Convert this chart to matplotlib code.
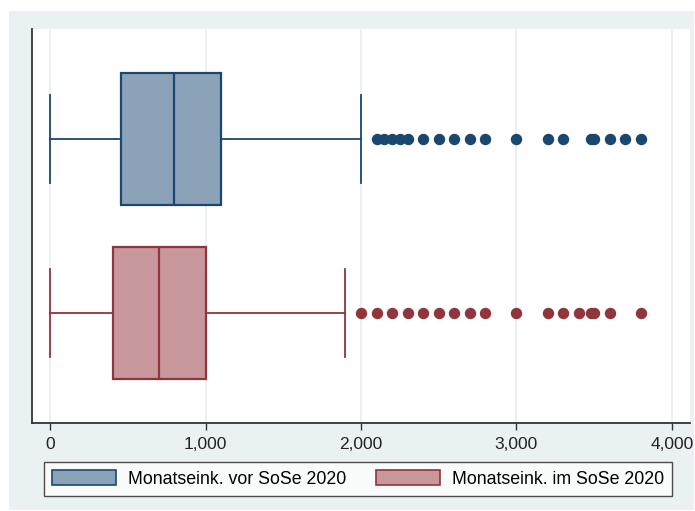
import matplotlib.pyplot as plt
from matplotlib.patches import Rectangle, Patch

# monthly income before / during summer semester 2020
labels = ["Monatseink. vor SoSe 2020", "Monatseink. im SoSe 2020"]
whislo = [0, 0]
q1 = [455, 405]
med = [800, 700]
q3 = [1100, 1000]
whishi = [2000, 1900]
fliers_vor = [2100, 2150, 2200, 2250, 2300, 2400, 2500, 2600, 2700, 2800,
              3000, 3200, 3300, 3480, 3500, 3600, 3700, 3800]
fliers_im = [2000, 2100, 2200, 2300, 2400, 2500, 2600, 2700, 2800,
             3000, 3200, 3300, 3400, 3480, 3500, 3600, 3800]
xticks = [0, 1000, 2000, 3000, 4000]

fills = ["#8CA2B8", "#C8979B"]
edges = ["#1A476F", "#90353B"]

plt.rcParams['font.family'] = ['Liberation Sans', 'DejaVu Sans']

fig = plt.figure(figsize=(6.95, 5.11), dpi=100, facecolor="white")
fig.patches.append(Rectangle((9 / 695, 1 - 510 / 511), 685 / 695, 499 / 511,
                             transform=fig.transFigure, facecolor="#EAF1F3",
                             edgecolor="none", zorder=-5))

ax = fig.add_axes([32 / 695, 1 - 423 / 511, 658 / 695, 394 / 511])
ax.set_facecolor("white")

stats = []
for i, fl in enumerate([fliers_vor, fliers_im]):
    stats.append(dict(whislo=whislo[i], q1=q1[i], med=med[i], q3=q3[i],
                      whishi=whishi[i], fliers=fl, label=labels[i]))

positions = [2, 1]
for i in range(2):
    ax.bxp([stats[i]], positions=[positions[i]], widths=0.753, vert=False,
           patch_artist=True, capwidths=0.506,
           boxprops=dict(facecolor=fills[i], edgecolor=edges[i], linewidth=1.6),
           medianprops=dict(color=edges[i], linewidth=1.6),
           whiskerprops=dict(color=edges[i], linewidth=1.3),
           capprops=dict(color=edges[i], linewidth=1.3),
           flierprops=dict(marker="o", markerfacecolor=edges[i],
                           markeredgecolor=edges[i], markersize=7.2))

ax.set_xlim(-116, 4116)
ax.set_ylim(0.368, 2.632)
ax.set_xticks(xticks)
ax.set_xticklabels([f"{t:,}" for t in xticks], fontsize=12.5, color="#222222")
ax.set_yticks([])
ax.tick_params(axis="x", length=5, width=1, color="#333333", pad=5)
ax.grid(axis="x", color="#E8F0F4", linewidth=1.3)
ax.set_axisbelow(True)
for s in ["top", "right"]:
    ax.spines[s].set_visible(False)
for s in ["left", "bottom"]:
    ax.spines[s].set_color("#333333")
    ax.spines[s].set_linewidth(1.3)

handles = [Patch(facecolor=fills[i], edgecolor=edges[i], linewidth=1.2) for i in range(2)]
leg = fig.legend(handles, labels, loc="center",
                 bbox_to_anchor=(358 / 695, 1 - 479 / 511),
                 ncol=2, fontsize=12.8, frameon=True, fancybox=False,
                 edgecolor="#222222", handlelength=3.6, handleheight=0.95,
                 borderpad=0.45, handletextpad=0.65, columnspacing=1.7,
                 borderaxespad=0)
leg.get_frame().set_linewidth(1.0)

fig.savefig("out.png", dpi=100, facecolor="white")
